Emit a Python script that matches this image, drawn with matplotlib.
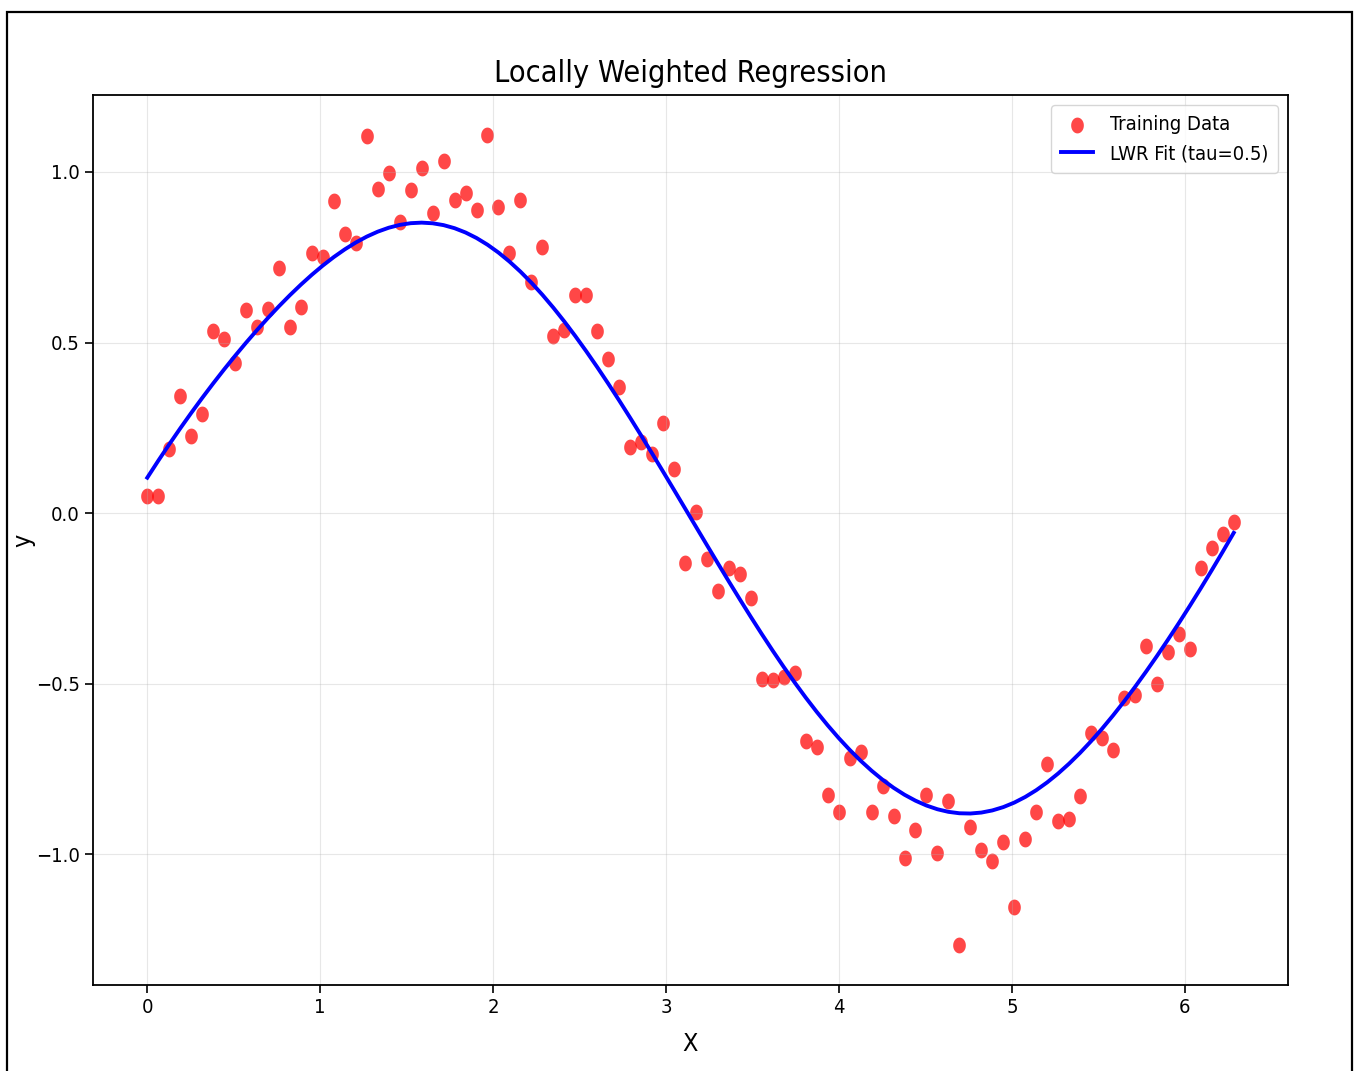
import numpy as np
import matplotlib
matplotlib.use("Agg")
import matplotlib.pyplot as plt
from matplotlib.path import Path
from matplotlib.patches import Rectangle

plt.rcParams['font.family'] = ['DejaVu Sans']
plt.rcParams['font.stretch'] = 'condensed'

# Training data: 100 samples over [0, 2*pi]
X = np.linspace(0, 2 * np.pi, 100)
y = np.array([
    0.051, 0.051, 0.187, 0.343, 0.225, 0.290, 0.533, 0.510, 0.440, 0.594,
    0.545, 0.597, 0.717, 0.545, 0.603, 0.761, 0.750, 0.914, 0.817, 0.791,
    1.104, 0.949, 0.996, 0.852, 0.946, 1.013, 0.881, 1.031, 0.917, 0.937,
    0.887, 1.107, 0.896, 0.761, 0.919, 0.676, 0.779, 0.518, 0.536, 0.640,
    0.640, 0.533, 0.451, 0.369, 0.193, 0.208, 0.173, 0.264, 0.129, -0.146,
    0.003, -0.135, -0.228, -0.161, -0.179, -0.249, -0.486, -0.489, -0.480, -0.469,
    -0.668, -0.685, -0.826, -0.876, -0.717, -0.700, -0.876, -0.799, -0.887, -1.010,
    -0.928, -0.826, -0.996, -0.843, -1.265, -0.919, -0.987, -1.019, -0.963, -1.154,
    -0.955, -0.876, -0.735, -0.902, -0.896, -0.829, -0.644, -0.659, -0.694, -0.542,
    -0.533, -0.389, -0.501, -0.407, -0.354, -0.398, -0.161, -0.102, -0.061, -0.026,
])
tau = 0.5


def lwr_predict(x0, X, y, tau):
    # Gaussian-weighted local linear fit around x0
    w = np.exp(-(X - x0) ** 2 / (2 * tau ** 2))
    A = np.column_stack([np.ones_like(X), X])
    W = np.diag(w)
    theta = np.linalg.pinv(A.T @ W @ A) @ A.T @ W @ y
    return theta[0] + theta[1] * x0


y_pred = np.array([lwr_predict(x0, X, y, tau) for x0 in X])

# slightly tall oval dot marker
t = np.linspace(0, 2 * np.pi, 60)
oval = Path(np.column_stack([0.8 * np.cos(t), np.sin(t)]), closed=True)

fig = plt.figure(figsize=(13.59, 10.71), dpi=100)
ax = fig.add_axes([0.0684, 0.0803, 0.8794, 0.831])

ax.scatter(X, y, color='red', alpha=0.72, s=130, marker=oval, linewidths=0,
           label='Training Data')
ax.plot(X, y_pred, color='blue', linewidth=2.8, label=f'LWR Fit (tau={tau})')

ax.set_title('Locally Weighted Regression', fontsize=22, pad=9)
ax.set_xlabel('X', fontsize=18, labelpad=11)
ax.set_ylabel('y', fontsize=18)
ax.yaxis.set_label_coords(-0.048, 0.5)
ax.tick_params(labelsize=14.5, length=6, width=1.2)
ax.grid(True, alpha=0.3)
for s in ax.spines.values():
    s.set_linewidth(1.3)
ax.legend(fontsize=14.5, loc='upper right', handlelength=1.6, borderpad=0.5)

# outer frame around the figure
fig.patches.append(Rectangle((7 / 1359, -0.05), 1345 / 1359, 1.05 - 12 / 1071,
                             transform=fig.transFigure, fill=False,
                             edgecolor='black', linewidth=1.6))

fig.savefig('out.png', dpi=100)
